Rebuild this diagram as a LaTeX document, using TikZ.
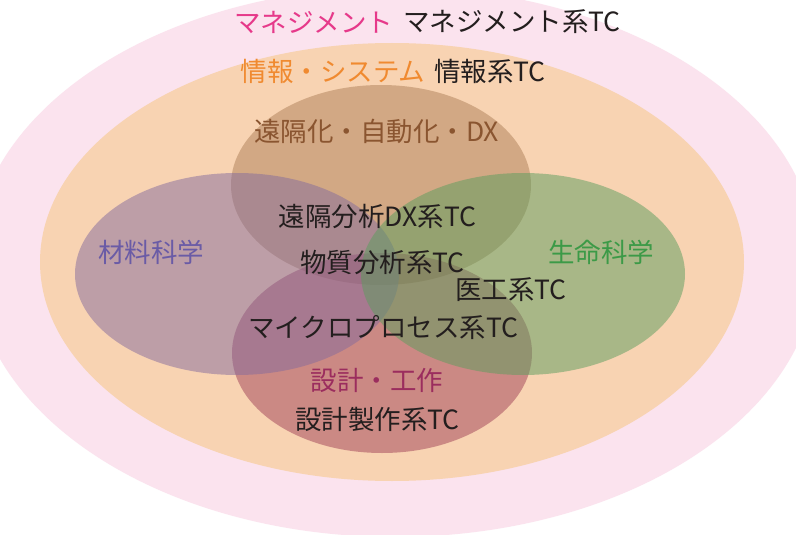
\documentclass[tikz,border=0pt]{standalone}
\usepackage{fontspec}
\setmainfont{Noto Sans CJK JP}
\definecolor{pinkbg}{RGB}{251,227,238}
\definecolor{orangebg}{RGB}{248,211,178}
\definecolor{brownc}{RGB}{174,127,87}
\definecolor{purplec}{RGB}{132,107,157}
\definecolor{greenc}{RGB}{90,157,93}
\definecolor{redc}{RGB}{160,65,87}
\definecolor{tpink}{RGB}{230,57,138}
\definecolor{torange}{RGB}{240,138,48}
\definecolor{tbrown}{RGB}{138,85,48}
\definecolor{tpurple}{RGB}{106,91,166}
\definecolor{tgreen}{RGB}{60,154,71}
\definecolor{tred}{RGB}{155,45,94}
\definecolor{tblack}{RGB}{35,30,30}
\tikzset{
  txt/.style={font=\fontsize{26.5}{28}\selectfont, inner sep=0pt},
  tctxt/.style={txt, text=tblack},
  blob/.style={fill opacity=0.5},
}
\begin{document}
\begin{tikzpicture}[x=1pt,y=-1pt]
\useasboundingbox (0,0) rectangle (796,535);
\clip (0,0) rectangle (796,535);
\fill[white] (0,0) rectangle (796,535);
% ellipses
\fill[pinkbg] (395,262) ellipse [x radius=422pt, y radius=275pt];
\fill[orangebg] (392,262) ellipse [x radius=352pt, y radius=219pt];
\fill[brownc,blob] (381,185) ellipse [x radius=150pt, y radius=100pt];
\fill[redc,blob] (382,353) ellipse [x radius=150pt, y radius=100pt];
\fill[purplec,blob] (237,274) ellipse [x radius=162pt, y radius=101pt];
\fill[greenc,blob] (523,274) ellipse [x radius=162pt, y radius=101pt];
% category labels
\node[txt,text=tpink] (mg) at (313.5,22) {マネジメント};
\node[txt,text=torange] (is) at (333,71) {情報・システム};
\node[txt,text=tbrown] (dx) at (376.5,131) {遠隔化・自動化・DX};
\node[txt,text=tpurple] (ms) at (151,252) {材料科学};
\node[txt,text=tgreen] (ls) at (601,252) {生命科学};
\node[txt,text=tred] (dw) at (377,380) {設計・工作};
% TC labels
\node[tctxt] (mgtc) at (512,22) {マネジメント系TC};
\node[tctxt] (istc) at (490,71) {情報系TC};
\node[tctxt] (dxtc) at (377.5,216) {遠隔分析DX系TC};
\node[tctxt] (matc) at (382.5,262) {物質分析系TC};
\node[tctxt] (metc) at (511,290) {医工系TC};
\node[tctxt] (mptc) at (383.5,328) {マイクロプロセス系TC};
\node[tctxt] (dwtc) at (377.5,419) {設計製作系TC};
\end{tikzpicture}
\end{document}
